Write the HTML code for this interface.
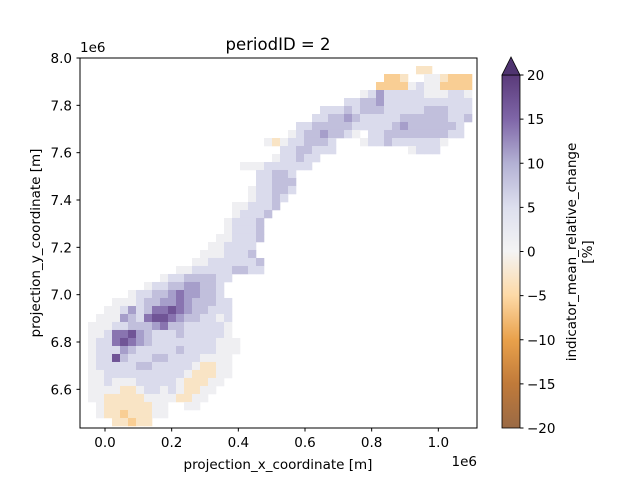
<!DOCTYPE html>
<html><head><meta charset="utf-8"><style>
body{margin:0;background:#fff;}
svg text{font-family:"DejaVu Sans","Liberation Sans",sans-serif;fill:#000;}
</style></head><body>
<svg id="chart" width="640" height="480" viewBox="0 0 640 480" xmlns="http://www.w3.org/2000/svg">
<defs>
<linearGradient id="cbgrad" x1="0" y1="1" x2="0" y2="0">
<stop offset="0" stop-color="#9a6a45"/><stop offset="0.125" stop-color="#c07a3a"/>
<stop offset="0.25" stop-color="#e9a14b"/><stop offset="0.375" stop-color="#fdd9a6"/>
<stop offset="0.5" stop-color="#f4f4f4"/><stop offset="0.625" stop-color="#dddfee"/>
<stop offset="0.75" stop-color="#b3b1d4"/><stop offset="0.875" stop-color="#7f66a8"/>
<stop offset="1" stop-color="#5a3a7a"/>
</linearGradient>
</defs>
<g id="cells"></g>
<rect x="80" y="58" width="397" height="370" fill="none" stroke="#000" stroke-width="1"/>
<g id="axes"></g>
<text x="278" y="50" font-size="16.5" text-anchor="middle">periodID = 2</text>
<text x="80" y="52" font-size="13.5">1e6</text>
<text x="477" y="466" font-size="13.5" text-anchor="end">1e6</text>
<text x="278" y="469" font-size="13.5" text-anchor="middle">projection_x_coordinate [m]</text>
<text transform="translate(40,243) rotate(-90)" font-size="13.5" text-anchor="middle">projection_y_coordinate [m]</text>
<g>
<rect x="502" y="75" width="18" height="353" fill="url(#cbgrad)" stroke="#000" stroke-width="0.8"/>
<polygon points="502,75 520,75 511,57" fill="#4f3470" stroke="#000" stroke-width="0.8"/>
<g id="cbticks"></g>
<text transform="translate(576,252) rotate(-90)" font-size="13.5" text-anchor="middle">indicator_mean_relative_change</text>
<text transform="translate(592,252) rotate(-90)" font-size="13.5" text-anchor="middle">[%]</text>
</g>
</svg>
<script>
const xTicks=[0.0,0.2,0.4,0.6,0.8,1.0];
const xTickLabels=["0.0","0.2","0.4","0.6","0.8","1.0"];
const yTicks=[6.6,6.8,7.0,7.2,7.4,7.6,7.8,8.0];
const yTickLabels=["6.6","6.8","7.0","7.2","7.4","7.6","7.8","8.0"];
const cbTicks=[-20,-15,-10,-5,0,5,10,15,20];
const cbTickLabels=["\u221220","\u221215","\u221210","\u22125","0","5","10","15","20"];
const levelChars="abcdefgh";
const levelValues=[-6,-3,1,5,8,11,14,17];
const rowStart=[0,42,38,37,35,33,30,29,27,26,23,25,24,20,22,22,21,21,19,19,18,18,17,16,15,14,12,10,8,6,4,3,2,1,1,1,1,1,1,1,1,1,1,2,2,4];
const rowVals=["","bb","aab..ccbaaa","aaaacdccaaaa","cdfdddddcccddc","ddeefddddddddddd","dddedeeedddddeeeddd","ddeefedddddeeeeeedde","ddeeeeedddddefeeeeeed","cdeefeedc.ddeeeeeeeedd","cbcddeeed...cddeddddddc","ddeeddd.........cddd","cddedd","cccdddddd","ddeed","ddeee","cddeed","cdded","ccddde","cddde","cddde","cddde","ccddde","ccdddd","cccddde","ccdddddde","ccdddddeedd","cddeeeedd","cddeeffeed","cddeefgffeed","cccdeeffgfeeedd","ccdfdegghgfeeddd","cccfedghhgfeeddcd","cccddeeefgeedddddc","ccdgghfedddedddddc","cddghgfeddddddddccc","cdddfedddddeddddccc","cddhedddeeddddcccc","cdddddeedddddcbbcc","ccddddddddddcbbbcc","ccdcccdddddcbbbcc","ccccbbcddcdcbbcc","ccbbbbbccccbbcc","cbbbbbbcc..cc","cbbabbbcc","bbabb"];

const NS="http://www.w3.org/2000/svg";
const xScale=v=>105+v*333.33;
const yScale=v=>58+(8.0-v)*236.67;
const cbScale=v=>428-(v+20)/40*353;
const X0=-0.075, DX=0.024, Y0=8.0, DY=0.0338;
const stops=[[-20,[154,106,69]],[-15,[192,122,58]],[-10,[233,161,75]],[-5,[253,217,166]],[0,[244,244,244]],[5,[218,219,236]],[10,[176,172,210]],[15,[127,102,168]],[20,[90,58,122]]];
function color(v){
  v=Math.max(-20,Math.min(20,v));
  for(let i=0;i<stops.length-1;i++){
    const [a,ca]=stops[i],[b,cb]=stops[i+1];
    if(v<=b){const t=(v-a)/(b-a);
      return "rgb("+ca.map((c,k)=>Math.round(c+(cb[k]-c)*t)).join(",")+")";}
  }
  return "rgb(90,58,122)";
}
function mk(tag,attrs,parent){const e=document.createElementNS(NS,tag);for(const k in attrs)e.setAttribute(k,attrs[k]);parent.appendChild(e);return e;}

const cells=document.getElementById("cells");
rowVals.forEach((s,r)=>{
  for(let i=0;i<s.length;i++){
    const ch=s[i];const li=levelChars.indexOf(ch);if(li<0)continue;
    const c=rowStart[r]+i;
    const x1=xScale(X0+c*DX),x2=xScale(X0+(c+1)*DX);
    const y1=yScale(Y0-r*DY),y2=yScale(Y0-(r+1)*DY);
    const el=mk("rect",{x:x1,y:y1,width:x2-x1+0.3,height:y2-y1+0.3,fill:color(levelValues[li])},cells);
    
    
  }
});

const axes=document.getElementById("axes");
xTicks.forEach((t,i)=>{
  const x=xScale(t);
  const l=mk("line",{x1:x,x2:x,y1:428,y2:431.5,stroke:"#000"},axes);
  
  
  const tx=mk("text",{x:x,y:447,"font-size":13.5,"text-anchor":"middle"},axes);tx.textContent=xTickLabels[i];
  
  
});
yTicks.forEach((t,i)=>{
  const y=yScale(t);
  const l=mk("line",{x1:76.5,x2:80,y1:y,y2:y,stroke:"#000"},axes);
  
  
  const tx=mk("text",{x:72,y:y+5,"font-size":13.5,"text-anchor":"end"},axes);tx.textContent=yTickLabels[i];
  
  
});
const cbt=document.getElementById("cbticks");
cbTicks.forEach((t,i)=>{
  const y=cbScale(t);
  const l=mk("line",{x1:520,x2:523.5,y1:y,y2:y,stroke:"#000"},cbt);
  
  
  const tx=mk("text",{x:527,y:y+5,"font-size":13.5},cbt);tx.textContent=cbTickLabels[i];
  
  
});
</script>
</body></html>
